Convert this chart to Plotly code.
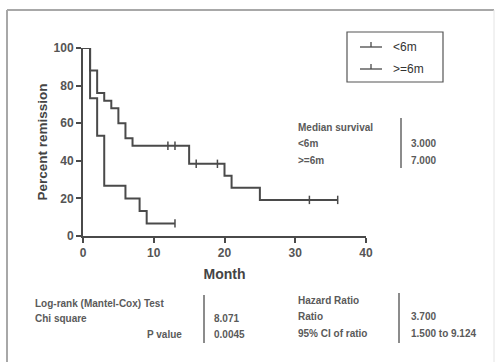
import plotly.graph_objects as go

# ---- data ----
lt6_time = [0, 1, 2, 3, 6, 8, 9, 13]
lt6_surv = [100, 73.3, 53.3, 26.7, 20, 13.3, 6.7, 6.7]
lt6_cens_t = [13]
lt6_cens_s = [6.7]

ge6_time = [0, 1, 2, 3, 4, 5, 6, 7, 15, 20, 21, 25, 36]
ge6_surv = [100, 88, 76, 72, 68, 60, 52, 48, 38.4, 32, 25.6, 19.2, 19.2]
ge6_cens_t = [12, 13, 16, 19, 32, 36]
ge6_cens_s = [48, 48, 38.4, 38.4, 19.2, 19.2]

series_names = ["<6m", ">=6m"]
x_ticks = [0, 10, 20, 30, 40]
y_ticks = [0, 20, 40, 60, 80, 100]

median_rows = [("Median survival", ""), ("<6m", "3.000"), (">=6m", "7.000")]
logrank_rows = [("Log-rank (Mantel-Cox) Test", ""), ("Chi square", "8.071"), ("P value", "0.0045")]
hazard_rows = [("Hazard Ratio", ""), ("Ratio", "3.700"), ("95% CI of ratio", "1.500 to 9.124")]

# ---- layout geometry (pixels) ----
W, H = 498, 363
L, R, T, B = 83, 366, 48, 236
PW, PH = R - L, B - T


def px(x):
    return (x - L) / PW


def py(y):
    return (B - y) / PH


LINE = "#4a4a4a"
TXT = "#5a5a5a"
FONT = "Liberation Sans, Arial, sans-serif"

fig = go.Figure()
for t, s in [(lt6_time, lt6_surv), (ge6_time, ge6_surv)]:
    fig.add_trace(go.Scatter(x=t, y=s, mode="lines", line=dict(color=LINE, width=2, shape="hv"),
                             showlegend=False, hoverinfo="skip", cliponaxis=False))
for t, s in [(lt6_cens_t, lt6_cens_s), (ge6_cens_t, ge6_cens_s)]:
    fig.add_trace(go.Scatter(x=t, y=s, mode="markers",
                             marker=dict(symbol="line-ns", size=6, line=dict(color=LINE, width=1.5)),
                             showlegend=False, hoverinfo="skip", cliponaxis=False))

shapes = []
annotations = []

# outer border
shapes.append(dict(type="line", xref="paper", yref="paper", x0=px(7), x1=px(494), y0=py(10), y1=py(10),
                   line=dict(color="#a8a8a8", width=2)))
shapes.append(dict(type="line", xref="paper", yref="paper", x0=px(7), x1=px(7), y0=py(10), y1=py(362),
                   line=dict(color="#a8a8a8", width=2)))
shapes.append(dict(type="line", xref="paper", yref="paper", x0=px(494), x1=px(494), y0=py(10), y1=py(362),
                   line=dict(color="#e4e4e4", width=1)))

# legend box
shapes.append(dict(type="rect", xref="paper", yref="paper", x0=px(347), x1=px(443), y0=py(32), y1=py(82),
                   line=dict(color="#555555", width=1.2)))
for i, name in enumerate(series_names):
    yy = 47 + i * 22
    shapes.append(dict(type="line", xref="paper", yref="paper", x0=px(360), x1=px(382), y0=py(yy), y1=py(yy),
                       line=dict(color=LINE, width=1.3)))
    shapes.append(dict(type="line", xref="paper", yref="paper", x0=px(371), x1=px(371), y0=py(yy), y1=py(yy - 5),
                       line=dict(color=LINE, width=1.3)))
    annotations.append(dict(xref="paper", yref="paper", x=px(391), y=py(yy), text=name, showarrow=False,
                            xanchor="left", yanchor="middle", font=dict(family=FONT, size=12, color="#333333")))


def table(rows, xl, xv, xline, y0, dy, line_top, line_bot, right_align_last=None):
    for i, (lab, val) in enumerate(rows):
        yy = y0 + i * dy
        if lab:
            if right_align_last is not None and i == len(rows) - 1:
                annotations.append(dict(xref="paper", yref="paper", x=px(right_align_last), y=py(yy), text=lab,
                                        showarrow=False, xanchor="right", yanchor="middle",
                                        font=dict(family=FONT, size=10, color=TXT, weight="bold")))
            else:
                annotations.append(dict(xref="paper", yref="paper", x=px(xl), y=py(yy), text=lab, showarrow=False,
                                        xanchor="left", yanchor="middle",
                                        font=dict(family=FONT, size=10, color=TXT, weight="bold")))
        if val:
            annotations.append(dict(xref="paper", yref="paper", x=px(xv), y=py(yy), text=val, showarrow=False,
                                    xanchor="left", yanchor="middle",
                                    font=dict(family=FONT, size=10, color=TXT, weight="bold")))
    shapes.append(dict(type="line", xref="paper", yref="paper", x0=px(xline), x1=px(xline), y0=py(line_top),
                       y1=py(line_bot), line=dict(color="#666666", width=1.5)))


table(median_rows, 296, 409, 401, 127, 16.5, 118, 168)
table(logrank_rows, 33, 212, 204, 303, 15.5, 295, 343, right_align_last=184)
table(hazard_rows, 296, 409, 399, 300, 16.5, 293, 343)

fig.update_layout(
    width=W, height=H,
    margin=dict(l=L, r=W - R, t=T, b=H - B, pad=0),
    paper_bgcolor="white", plot_bgcolor="white",
    shapes=shapes, annotations=annotations,
    font=dict(family=FONT, color="#555555"),
    xaxis=dict(range=[0, 40], tickvals=x_ticks, showgrid=False, zeroline=False, showline=True,
               linecolor=LINE, linewidth=2, ticks="outside", ticklen=5, tickwidth=2, tickcolor=LINE,
               tickfont=dict(family=FONT, size=12, color="#555555", weight="bold"),
               title=dict(text="Month", font=dict(family=FONT, size=14, color="#444444", weight="bold"),
                          standoff=10)),
    yaxis=dict(range=[0, 100], tickvals=y_ticks, showgrid=False, zeroline=False, showline=True,
               linecolor=LINE, linewidth=2, ticks="outside", ticklen=5, tickwidth=2, tickcolor=LINE,
               tickfont=dict(family=FONT, size=12, color="#555555", weight="bold"),
               title=dict(text="Percent remission", font=dict(family=FONT, size=13.5, color="#444444", weight="bold"),
                          standoff=3)),
)

fig.write_html("out.html")
